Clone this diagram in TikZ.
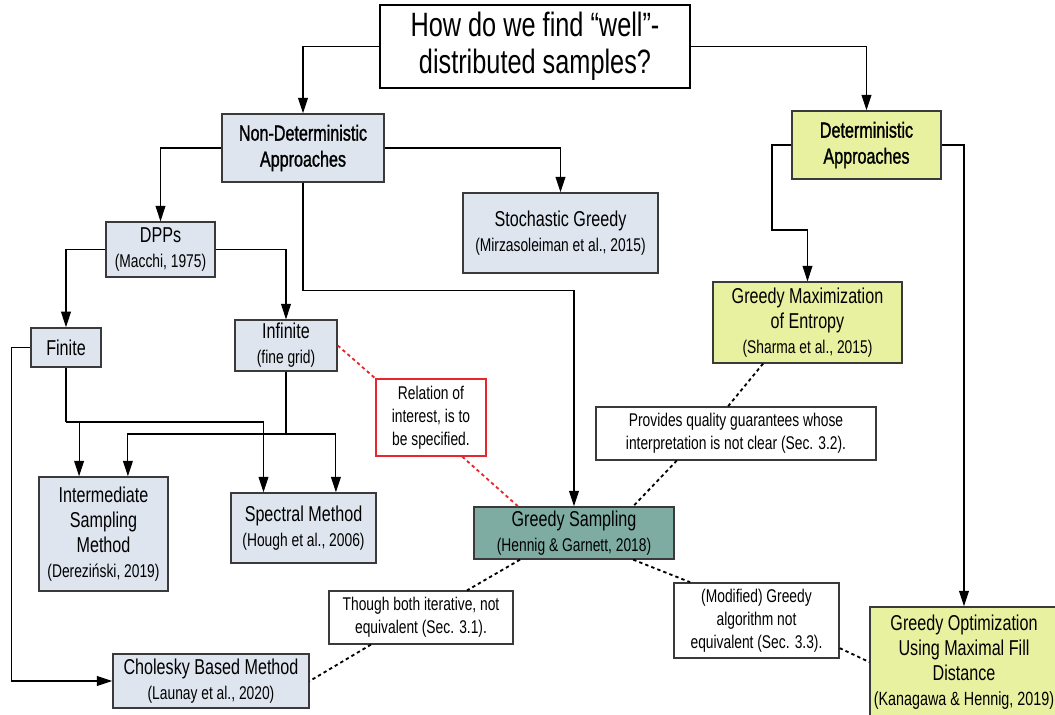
\documentclass[tikz,border=0pt]{standalone}
\usepackage{fontspec}
\setmainfont{Liberation Sans}[FakeStretch=0.75]
\newfontfamily\headfont{Liberation Sans}[FakeStretch=0.74,FakeBold=1.2]
\usetikzlibrary{arrows.meta}

\definecolor{ndfill}{HTML}{DEE5EF}
\definecolor{dfill}{HTML}{E8F1A0}
\definecolor{gsfill}{HTML}{7EACA3}
\definecolor{boxline}{HTML}{3A3A3A}
\definecolor{relred}{HTML}{E8262B}

\newcommand\citeline[1]{{\fontsize{13.1}{15}\selectfont #1}}

\tikzset{
	box/.style={draw=boxline, line width=1pt, align=center, inner sep=0pt,
		font=\fontsize{15.3}{17.8}\selectfont},
	ndbox/.style={box, fill=ndfill},
	dbox/.style={box, fill=dfill},
	notebox/.style={box, fill=white, font=\fontsize{13.1}{16.2}\selectfont},
	link/.style={line width=0.75pt},
	dotlink/.style={line width=1.3pt, dash pattern=on 2.4pt off 2.2pt},
}

\begin{document}
\begin{tikzpicture}[x=0.025cm,y=-0.025cm,>={Triangle[width=7pt,length=11pt]}]
			\useasboundingbox (0,0) rectangle (1055,715);
			\clip (0,0) rectangle (1055,715);

			% Nodes
			\node[box, draw=black, line width=1.4pt, fill=white, minimum width=7.75cm, minimum height=2.07cm,
				font=\fontsize{24}{26.5}\selectfont] (title) at (535,46.5) {How do we find “well”-\\distributed samples?};

			\node[ndbox, minimum width=4.05cm, minimum height=1.7cm, font=\headfont\fontsize{15.5}{18.5}\selectfont]
				(nondet) at (303,148) {Non-Deterministic\\Approaches};
			\node[dbox, minimum width=3.72cm, minimum height=1.7cm, font=\headfont\fontsize{15.5}{18.5}\selectfont]
				(det) at (866.5,145) {Deterministic\\Approaches};

			\node[ndbox, minimum width=4.88cm, minimum height=2cm] (stoch) at (560.5,233)
				{Stochastic Greedy\\\citeline{(Mirzasoleiman et al., 2015)}};
			\node[ndbox, minimum width=2.72cm, minimum height=1.37cm] (dpps) at (160.5,249.5)
				{DPPs\\\citeline{(Macchi, 1975)}};
			\node[ndbox, minimum width=1.75cm, minimum height=0.98cm] (finite) at (66,347.5) {Finite};
			\node[ndbox, minimum width=2.55cm, minimum height=1.27cm] (infinite) at (286,345.5)
				{Infinite\\\citeline{(fine grid)}};
			\node[ndbox, minimum width=3.22cm, minimum height=2.85cm] (inter) at (103.5,534)
				{Intermediate\\Sampling\\Method\\\citeline{(Dereziński, 2019)}};
			\node[ndbox, minimum width=3.62cm, minimum height=1.75cm] (spectral) at (303.5,528)
				{Spectral Method\\\citeline{(Hough et al., 2006)}};
			\node[ndbox, minimum width=4.9cm, minimum height=1.35cm] (cholesky) at (211,681)
				{Cholesky Based Method\\\citeline{(Launay et al., 2020)}};

			\node[box, fill=gsfill, minimum width=5cm, minimum height=1.3cm] (greedy) at (574,533)
				{Greedy Sampling\\\citeline{(Hennig \& Garnett, 2018)}};

			\node[dbox, minimum width=4.72cm, minimum height=2.02cm] (maxent) at (807.5,322.5)
				{Greedy Maximization\\of Entropy\\\citeline{(Sharma et al., 2015)}};
			\node[dbox, minimum width=4.7cm, minimum height=2.75cm] (gopt) at (964,662)
				{Greedy Optimization\\Using Maximal Fill\\Distance\\{\fontsize{13.6}{15}\selectfont (Kanagawa \& Hennig, 2019)}};

			% Comment boxes
			\node[notebox, draw=relred, minimum width=2.75cm, minimum height=1.92cm] (relation) at (431,417.5)
				{Relation of\\interest, is to\\be specified.};
			\node[notebox, minimum width=7cm, minimum height=1.32cm] (provides) at (736,433.5)
				{Provides quality guarantees whose\\interpretation is not clear (Sec. 3.2).};
			\node[notebox, minimum width=4.12cm, minimum height=1.88cm] (modified) at (756.5,620.5)
				{(Modified) Greedy\\algorithm not\\equivalent (Sec. 3.3).};
			\node[notebox, minimum width=4.6cm, minimum height=1.32cm] (though) at (421,617.5)
				{Though both iterative, not\\equivalent (Sec. 3.1).};

			% Bend points
			\coordinate (fjoin) at (66,422);
			\coordinate (ijoin) at (286,434);
			\coordinate (dbend) at (772,230);

			% Lines going down
			\draw[link,->] (title.west) -| (nondet.north);
			\draw[link,->] (title.east) -| (det.north);

			\draw[link,->] (nondet.west) -| (dpps.north);
			\draw[link,->] (nondet.east) -| (stoch.north);
			\draw[link,->] (nondet.south) -- ++(0,108) -| (greedy.north);

			\draw[link,->] (dpps.west) -| (finite.north);
			\draw[link,->] (dpps.east) -| (infinite.north);

			\draw[link,->] (finite.west) -- ++(-19,0) |- (cholesky.west);
			\draw[link] (finite.south) -- (fjoin);
			\draw[link,->] (fjoin) -| ([xshift=-1cm]spectral.north);
			\draw[link,->] ([xshift=-0.61cm]inter.north |- fjoin) -- ([xshift=-0.61cm]inter.north);

			\draw[link] (infinite.south) -- (ijoin);
			\draw[link,->] (ijoin) -| ([xshift=0.61cm]inter.north);
			\draw[link,->] (ijoin) -| ([xshift=0.81cm]spectral.north);

			\draw[link,->] (det.west) -| (dbend) -| (maxent.north);
			\draw[link,->] (det.east) -| (gopt.north);

			% Dotted relations
			\draw[dotlink, relred] (infinite.east) -- (relation.north west);
			\draw[dotlink, relred] ([xshift=0.78cm]relation.south) -- ([xshift=-1.4cm]greedy.north);

			\draw[dotlink] ([xshift=-1.11cm]maxent.south) -- ([xshift=-0.2cm]provides.north);
			\draw[dotlink] ([xshift=-1.48cm]provides.south) -- ([xshift=1.48cm]greedy.north);
			\draw[dotlink] ([xshift=1.48cm]greedy.south) -- ([xshift=-1.66cm]modified.north);
			\draw[dotlink] ([yshift=-0.69cm]modified.east) -- (gopt.west);
			\draw[dotlink] ([xshift=-1.35cm]greedy.south) -- ([xshift=1.15cm]though.north);
			\draw[dotlink] ([xshift=-1.25cm]though.south) -- (cholesky.east);

		\end{tikzpicture}
\end{document}
